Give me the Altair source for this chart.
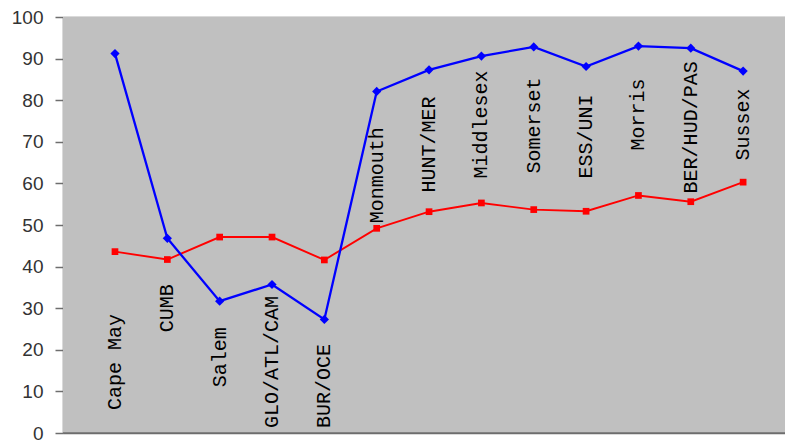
import altair as alt
import pandas as pd

categories = ["Cape May", "CUMB", "Salem", "GLO/ATL/CAM", "BUR/OCE", "Monmouth",
              "HUNT/MER", "Middlesex", "Somerset", "ESS/UNI", "Morris",
              "BER/HUD/PAS", "Sussex"]
blue_values = [91.2, 46.8, 31.7, 35.7, 27.3, 82.1, 87.3, 90.6, 92.8, 88.1, 93.0, 92.5, 87.0]
red_values = [43.6, 41.7, 47.1, 47.1, 41.6, 49.2, 53.2, 55.3, 53.7, 53.3, 57.1, 55.6, 60.3]
label_base = [5.5, 24.2, 11.0, 1.2, 1.2, 50.4, 57.8, 61.2, 62.4, 61.2, 67.9, 57.6, 65.5]
y_ticks = [0, 10, 20, 30, 40, 50, 60, 70, 80, 90, 100]

idx = list(range(len(categories)))
blue = pd.DataFrame({"i": idx, "v": blue_values})
red = pd.DataFrame({"i": idx, "v": red_values})
labels = pd.DataFrame({"i": idx, "v": label_base, "name": categories})

W, H = 722, 416
xs = alt.Scale(domain=[-0.993, 12.8], nice=False, zero=False)
ys = alt.Scale(domain=[0, 100], nice=False)

X = alt.X("i:Q", scale=xs, axis=None)
Y = alt.Y("v:Q", scale=ys,
          axis=alt.Axis(values=y_ticks, title=None, grid=True, gridColor="#6e6e6e",
                        gridWidth=1.5, tickColor="#6e6e6e", tickSize=8, tickWidth=1.5,
                        domainColor="#6e6e6e", domainWidth=1.5, labelFont="Liberation Sans",
                        labelFontSize=19, labelColor="#333333", labelPadding=12))

bg = alt.Chart(pd.DataFrame({"v": [0]})).mark_rect(color="#c0c0c0").encode(
    x=alt.value(0), x2=alt.value(W), y=alt.value(0), y2=alt.value(H))

blue_line = alt.Chart(blue).mark_line(color="#0000ff", strokeWidth=2.3).encode(x=X, y=Y)
blue_pts = alt.Chart(blue).mark_point(shape="diamond", filled=True, color="#0000ff",
                                      size=85, opacity=1).encode(x=X, y=Y)
red_line = alt.Chart(red).mark_line(color="#ff0000", strokeWidth=1.9).encode(x=X, y=Y)
red_pts = alt.Chart(red).mark_point(shape="square", filled=True, color="#ff0000",
                                    size=45, opacity=1).encode(x=X, y=Y)
text = alt.Chart(labels).mark_text(angle=270, align="left", baseline="middle",
                                   font="Liberation Mono", fontSize=20,
                                   color="#000000").encode(x=X, y=Y, text="name:N")

bottom = alt.Chart(pd.DataFrame({"v": [0]})).mark_rule(color="#6e6e6e", strokeWidth=1.5).encode(
    y=alt.Y("v:Q", scale=ys))

chart = alt.layer(bg, red_line, blue_line, red_pts, blue_pts, text, bottom).properties(
    width=W, height=H,
    autosize=alt.AutoSizeParams(type="none"),
    padding={"left": 55, "top": 9, "right": 0, "bottom": 12},
).configure_view(strokeWidth=0)

chart.save("out.html", embed_options={"renderer": "svg", "actions": False})
